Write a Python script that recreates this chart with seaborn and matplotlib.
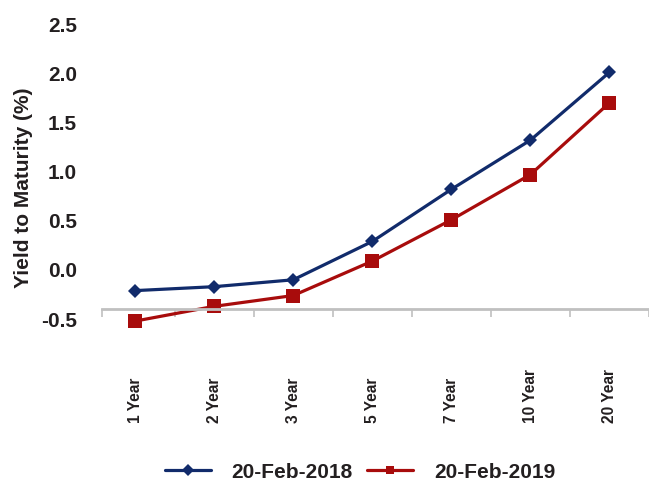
#!/usr/bin/env python3
"""
Yield curve: 20-Feb-2018 vs 20-Feb-2019
"""

import numpy as np
import pandas as pd
import seaborn as sns
import matplotlib
matplotlib.use("Agg")
import matplotlib.pyplot as plt

# Data
tenors = ['1 Year', '2 Year', '3 Year', '5 Year', '7 Year', '10 Year', '20 Year']
yield_2018 = [-0.22, -0.18, -0.11, 0.28, 0.81, 1.31, 2.00]
yield_2019 = [-0.53, -0.38, -0.27, 0.08, 0.50, 0.96, 1.69]
series_names = ['20-Feb-2018', '20-Feb-2019']
y_ticks = [-0.5, 0.0, 0.5, 1.0, 1.5, 2.0, 2.5]

BLUE = '#112b6b'
RED = '#a80c0c'
TEXT = '#231f20'


def main():
    sns.set_theme(style='white')
    plt.rcParams['font.family'] = ['Liberation Sans', 'DejaVu Sans']

    pos = np.arange(len(tenors))
    df = pd.DataFrame({
        'pos': np.concatenate([pos, pos]),
        'yield': yield_2018 + yield_2019,
        'series': [series_names[0]] * len(tenors) + [series_names[1]] * len(tenors),
    })

    fig = plt.figure(figsize=(6.49, 4.81), dpi=100)
    ax = fig.add_axes([0.157, 0.314, 0.843, 0.644])

    sns.lineplot(data=df, x='pos', y='yield', hue='series', style='series',
                 markers={series_names[0]: 'D', series_names[1]: 's'},
                 dashes=False, palette={series_names[0]: BLUE, series_names[1]: RED},
                 linewidth=2.3, markeredgewidth=0, ax=ax, legend=True)
    for line, ms in zip(ax.lines, [7.5, 10]):
        line.set_markersize(ms)
        line.set_clip_on(False)

    ax.set_xlim(-0.42, 6.5)
    ax.set_ylim(-0.61, 2.54)

    # y axis: labels only
    ax.set_yticks(y_ticks)
    ax.set_yticklabels([f'{v:.1f}' for v in y_ticks], fontsize=15,
                       fontweight='bold', color=TEXT)
    ax.tick_params(axis='y', length=0, pad=18)
    ax.set_ylabel('Yield to Maturity (%)', fontsize=15, fontweight='bold',
                  color=TEXT)
    ax.yaxis.set_label_coords(-0.126, 0.458)

    # category axis crossing at -0.41 with boundary tick marks
    for side in ['top', 'right', 'left']:
        ax.spines[side].set_visible(False)
    ax.spines['bottom'].set_position(('data', -0.41))
    ax.spines['bottom'].set_color('#c0c0c0')
    ax.spines['bottom'].set_linewidth(2)
    bounds = [-0.42] + list(pos[:-1] + 0.5) + [6.5]
    ax.set_xticks(bounds)
    ax.set_xticklabels([''] * len(bounds))
    ax.tick_params(axis='x', direction='out', length=6, width=1.2,
                   color='#c0c0c0', bottom=True)
    ax.set_xlabel('')

    for p, name in zip(pos, tenors):
        ax.text(p, -0.30, name, rotation=90, ha='center', va='bottom',
                fontsize=11.2, fontweight='bold', color=TEXT,
                transform=ax.get_xaxis_transform())

    handles, labels = ax.get_legend_handles_labels()
    ax.get_legend().remove()
    fig.legend(handles, labels, loc='center', bbox_to_anchor=(0.555, 0.017),
               ncol=2, frameon=False, handlelength=2.2, handletextpad=1.0,
               columnspacing=0.7, prop={'size': 15, 'weight': 'bold'},
               labelcolor=TEXT)

    fig.savefig('out.png', dpi=100)


if __name__ == '__main__':
    main()
